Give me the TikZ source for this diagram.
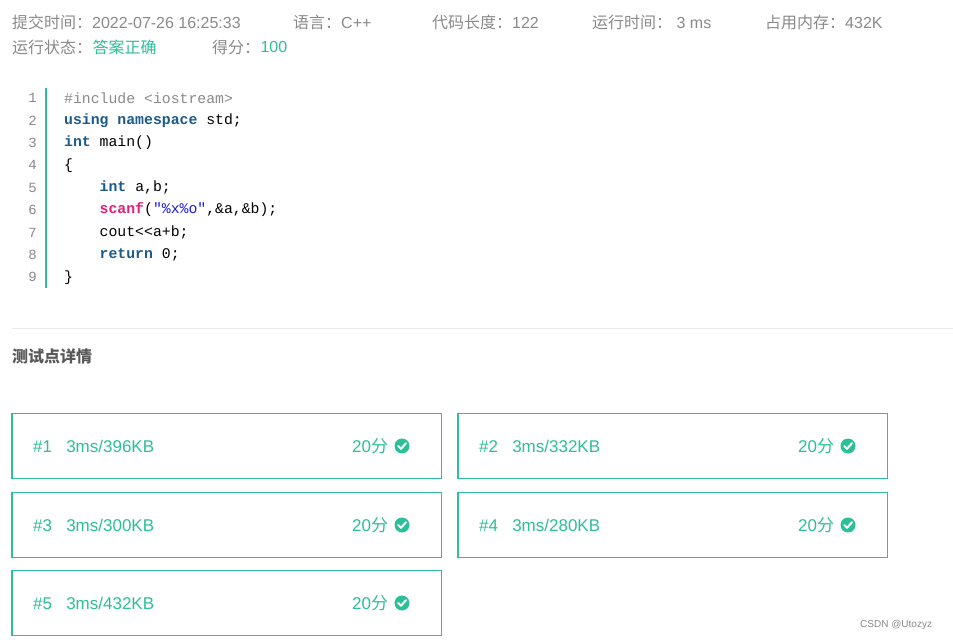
\documentclass[tikz,border=0pt]{standalone}
\usepackage{fontspec}
\setmainfont{Liberation Sans}
\setmonofont{Liberation Mono}
\newfontfamily\cjk{Noto Sans CJK SC}
\definecolor{okgreen}{HTML}{2DBE9A}
\definecolor{infogray}{HTML}{8A8A8A}
\definecolor{kwblue}{HTML}{1B5B8C}
\definecolor{fnpink}{HTML}{E0207A}
\definecolor{strblue}{HTML}{1A1AE6}
\tikzset{
  info/.style={anchor=west,inner sep=0pt,text=infogray,font=\fontsize{16}{18}\selectfont},
  good/.style={info,text=okgreen},
  lnum/.style={anchor=east,inner sep=0pt,text=infogray,font=\ttfamily\fontsize{14}{15}\selectfont},
  code/.style={anchor=west,inner sep=0pt,font=\ttfamily\fontsize{14.8}{16}\selectfont},
  casebox/.style={draw=okgreen,line width=1pt,minimum width=429pt,minimum height=65pt,anchor=north west,inner sep=0pt},
  casetext/.style={anchor=west,inner sep=0pt,text=okgreen,font=\fontsize{17}{19}\selectfont}
}
\newcommand{\kw}[1]{\textcolor{kwblue}{\textbf{#1}}}
\newcommand{\zh}[1]{{\cjk #1}}
\newcommand{\okmark}[1]{%
  \fill[okgreen] (#1) circle (7.5pt);
  \draw[white,line width=2pt,line cap=round,line join=round]
    ([shift={(-3.8pt,0pt)}]#1) -- ([shift={(-1pt,-2.8pt)}]#1) -- ([shift={(4pt,2.8pt)}]#1);}
\begin{document}
\begin{tikzpicture}[x=1pt,y=-1pt]
  \useasboundingbox[fill=white] (0,0) rectangle (953,641);
  % header
  \node[info] (time) at (12,22) {\zh{提交时间：}2022-07-26 16:25:33};
  \node[info] (lang) at (293,22) {\zh{语言：}C++};
  \node[info] (len) at (432,22) {\zh{代码长度：}122};
  \node[info] (run) at (592,22) {\zh{运行时间：} 3 ms};
  \node[info] (mem) at (765,22) {\zh{占用内存：}432K};
  \node[info] (state) at (12,47) {\zh{运行状态：}};
  \node[good] (ok) at (state.east) {\zh{答案正确}};
  \node[info] (score) at (212,47) {\zh{得分：}};
  \node[good] (hundred) at (score.east) {100};
  % code listing
  \draw[okgreen,line width=2pt] (46,88) -- (46,288);
  \foreach \i/\txt in {1/{\textcolor{infogray}{\#include <iostream>}},
      2/{\kw{using} \kw{namespace} std;},
      3/{\kw{int} main()},
      4/{\{},
      5/{\ \ \ \ \kw{int} a,b;},
      6/{\ \ \ \ \textcolor{fnpink}{\textbf{scanf}}(\textcolor{strblue}{"\%x\%o"},\&a,\&b);},
      7/{\ \ \ \ cout<{}<a+b;},
      8/{\ \ \ \ \kw{return} 0;},
      9/{\}}} {
    \node[lnum] (n\i) at (37,{98+22.4*(\i-1)}) {\i};
    \node[code] (c\i) at (64,{98+22.4*(\i-1)}) {\txt};
  }
  \draw[black!8] (12,328) -- (953,328);
  \node[info,text=black!65,font=\cjk\bfseries\fontsize{16}{18}\selectfont] (detail) at (12,356) {测试点详情};
  % test cases
  \foreach \k/\x/\y/\res in {1/12/413/396,2/458/413/332,3/12/492/300,4/458/492/280,5/12/570/432} {
    \node[casebox] (box\k) at (\x,\y) {};
    \draw[okgreen,line width=2.5pt] (box\k.north west) -- (box\k.south west);
    \node[casetext] (id\k) at ([xshift=21pt]box\k.west) {\#\k\ \ \ 3ms/\res KB};
    \node[casetext] (pt\k) at ([xshift=340pt]box\k.west) {20\zh{分}};
    \coordinate (ck\k) at ([xshift=390pt]box\k.west);
    \okmark{ck\k}
  }
  \node[anchor=west,inner sep=0pt,text=infogray,font=\fontsize{10}{12}\selectfont] (mark) at (860,625) {CSDN @Utozyz};
\end{tikzpicture}
\end{document}
